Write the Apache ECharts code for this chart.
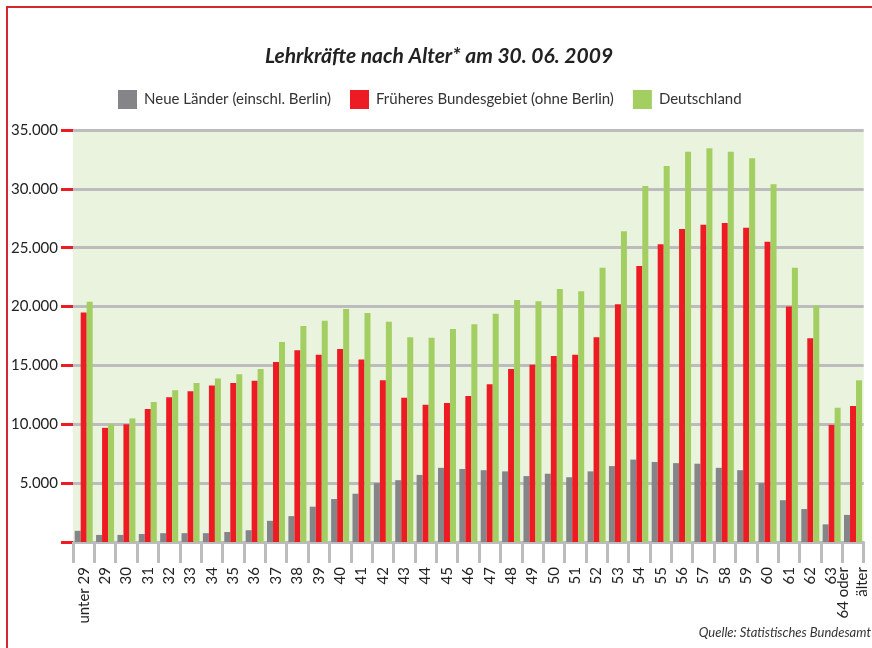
<!DOCTYPE html>
<html>
<head>
<meta charset="utf-8">
<script src="https://cdn.jsdelivr.net/npm/echarts@6/dist/echarts.min.js"></script>
<style>
  html, body { margin: 0; padding: 0; background: #fff; }
  #chart { width: 872px; height: 648px; }
</style>
</head>
<body>
<div id="chart"></div>
<script>
// Altersgruppen
const ages = ['unter 29', '29', '30', '31', '32', '33', '34', '35', '36', '37', '38', '39', '40',
  '41', '42', '43', '44', '45', '46', '47', '48', '49', '50', '51', '52', '53', '54', '55', '56',
  '57', '58', '59', '60', '61', '62', '63', '64 oder\nälter']

const neueLaender = [950, 600, 600, 680, 750, 750, 750, 850, 1000, 1800, 2200, 3000, 3650,
  4100, 5000, 5250, 5700, 6300, 6200, 6100, 6000, 5600, 5800, 5500, 6000, 6450, 7000, 6800, 6700,
  6650, 6300, 6100, 5000, 3550, 2800, 1500, 2300]

const frueheresBundesgebiet = [19500, 9700, 10000, 11300, 12300, 12800, 13300, 13500, 13700, 15300, 16300, 15900, 16400,
  15500, 13750, 12250, 11650, 11800, 12400, 13400, 14700, 15050, 15800, 15900, 17400, 20200, 23450, 25300, 26600,
  26950, 27100, 26700, 25500, 20000, 17300, 9950, 11550]

const deutschland = [20400, 10000, 10500, 11900, 12900, 13500, 13900, 14250, 14700, 17000, 18350, 18800, 19800,
  19450, 18700, 17400, 17350, 18100, 18500, 19400, 20550, 20450, 21500, 21300, 23300, 26400, 30250, 31950, 33150,
  33450, 33150, 32600, 30400, 23300, 20100, 11400, 13750]

const seriesNames = ['Neue Länder (einschl. Berlin)', 'Früheres Bundesgebiet (ohne Berlin)', 'Deutschland']

const fontFamily = 'Lato, "Noto Sans", sans-serif'

function formatThousands(v) {
  if (v === 0) return ''
  return String(v).replace(/\B(?=(\d{3})+(?!\d))/g, '.')
}

const myChart = echarts.init(document.getElementById('chart'))
myChart.setOption({
  animation: false,
  textStyle: { fontFamily: fontFamily },
  title: {
    text: 'Lehrkräfte nach Alter* am 30. 06. 2009',
    left: 265,
    top: 46,
    padding: 0,
    textStyle: {
      fontFamily: fontFamily,
      fontSize: 21,
      fontWeight: 'bold',
      fontStyle: 'italic',
      color: '#222'
    }
  },
  legend: {
    top: 90,
    left: 118,
    padding: 0,
    itemWidth: 19,
    itemHeight: 19,
    itemGap: 19,
    icon: 'rect',
    textStyle: { fontFamily: fontFamily, fontSize: 15, color: '#333', padding: [0, 0, 0, 2] },
    data: seriesNames
  },
  grid: {
    left: 73,
    right: 7,
    top: 130,
    bottom: 106,
    show: true,
    backgroundColor: '#e9f3dd',
    borderWidth: 0
  },
  xAxis: {
    type: 'category',
    data: ages,
    axisLine: { lineStyle: { color: '#bcbcbe', width: 3 } },
    axisTick: {
      show: true,
      length: 21,
      lineStyle: { color: '#bcbcbe', width: 3 }
    },
    axisLabel: {
      rotate: 90,
      interval: 0,
      margin: 25,
      fontSize: 15,
      lineHeight: 19,
      color: '#222'
    }
  },
  yAxis: {
    type: 'value',
    min: 0,
    max: 35000,
    interval: 5000,
    axisLine: { show: false },
    axisTick: {
      show: true,
      length: 12,
      lineStyle: { color: '#ed1c24', width: 3 }
    },
    splitLine: { lineStyle: { color: '#bcbcbe', width: 3 } },
    axisLabel: {
      margin: 15,
      fontSize: 15,
      color: '#222',
      formatter: formatThousands
    }
  },
  graphic: [
    {
      type: 'rect',
      shape: { x: 7, y: 7, width: 900, height: 700 },
      style: { fill: 'none', stroke: '#d6262f', lineWidth: 2 },
      silent: true
    },
    {
      type: 'text',
      right: 1,
      top: 626,
      style: {
        text: 'Quelle: Statistisches Bundesamt',
        fontFamily: fontFamily,
        fontSize: 13,
        fontStyle: 'italic',
        fill: '#333'
      }
    }
  ],
  series: [
    {
      name: seriesNames[0],
      type: 'bar',
      barWidth: 6,
      barGap: '0%',
      itemStyle: { color: '#858589' },
      data: neueLaender
    },
    {
      name: seriesNames[1],
      type: 'bar',
      barWidth: 6,
      itemStyle: { color: '#ed1c24' },
      data: frueheresBundesgebiet
    },
    {
      name: seriesNames[2],
      type: 'bar',
      barWidth: 6,
      itemStyle: { color: '#a3cf62' },
      data: deutschland
    }
  ]
})
</script>
</body>
</html>
